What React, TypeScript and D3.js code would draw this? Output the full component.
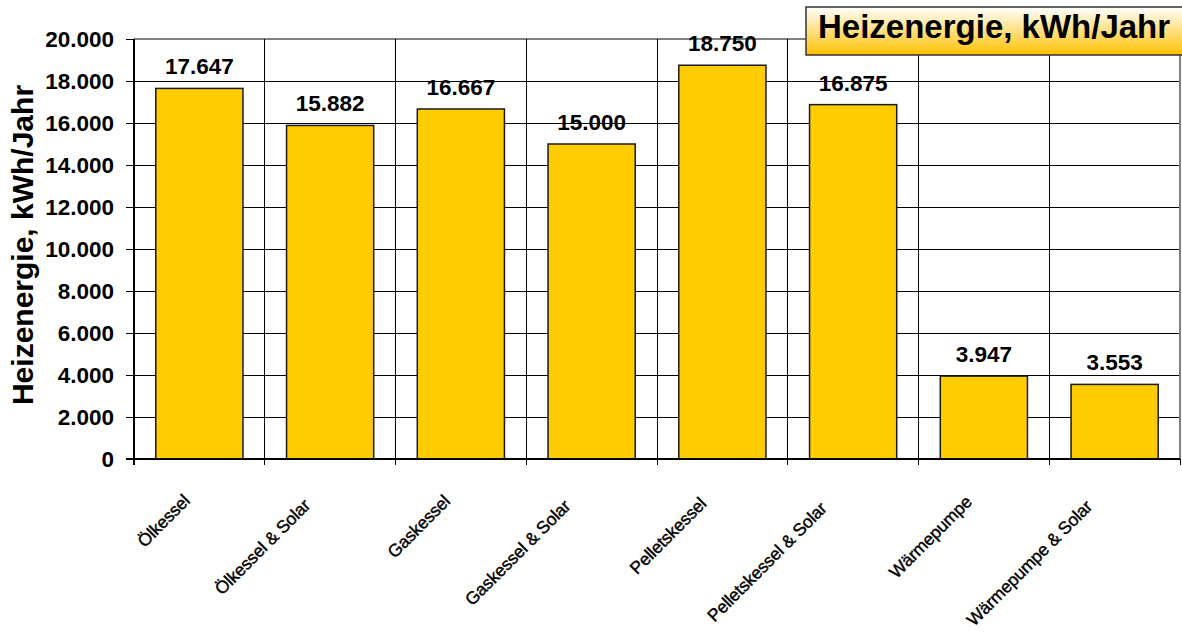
import React, { useEffect, useRef } from "react";
import * as d3 from "d3";

const categories = [
  "Ölkessel",
  "Ölkessel & Solar",
  "Gaskessel",
  "Gaskessel & Solar",
  "Pelletskessel",
  "Pelletskessel & Solar",
  "Wärmepumpe",
  "Wärmepumpe & Solar",
];
const values = [17647, 15882, 16667, 15000, 18750, 16875, 3947, 3553];
const yTicks = [0, 2000, 4000, 6000, 8000, 10000, 12000, 14000, 16000, 18000, 20000];
const legendLabel = "Heizenergie, kWh/Jahr";
const yTitle = "Heizenergie, kWh/Jahr";

const W = 1182;
const H = 639;
const FONT = "'Liberation Sans', Arial, Helvetica, sans-serif";

const fmt = (v: number) => d3.format(",")(v).replace(/,/g, ".");

export default function App() {
  const ref = useRef<SVGSVGElement | null>(null);

  useEffect(() => {
    const svg = d3.select(ref.current);
    svg.selectAll("*").remove();

    const left = 134, right = 1180, top = 39, bottom = 459;

    const x = d3.scaleBand<string>().domain(categories).range([left, right]).paddingInner(1 / 3).paddingOuter(1 / 6);
    const y = d3.scaleLinear().domain([0, 20000]).range([bottom, top]);
    const step = x.step();

    const defs = svg.append("defs");
    const grad = defs.append("linearGradient").attr("id", "lg").attr("x1", 0).attr("y1", 0).attr("x2", 0).attr("y2", 1);
    grad.append("stop").attr("offset", "0%").attr("stop-color", "#ffffff");
    grad.append("stop").attr("offset", "100%").attr("stop-color", "#ffc000");

    const lines = svg.append("g").attr("shape-rendering", "crispEdges");

    // horizontal gridlines
    lines.append("g").selectAll("line").data(yTicks.filter((t) => t > 0 && t < 20000)).join("line")
      .attr("x1", left).attr("x2", right).attr("y1", (d) => y(d)).attr("y2", (d) => y(d))
      .attr("stroke", "#000").attr("stroke-width", 1);

    // plot border top/right gray
    lines.append("line").attr("x1", left).attr("x2", right).attr("y1", y(20000)).attr("y2", y(20000))
      .attr("stroke", "#808080").attr("stroke-width", 1.5);
    lines.append("line").attr("x1", right).attr("x2", right).attr("y1", top).attr("y2", bottom)
      .attr("stroke", "#808080").attr("stroke-width", 1.5);

    // vertical gridlines at category boundaries (with tick extension)
    const bounds = categories.map((c) => (x(c) as number) - (step - x.bandwidth()) / 2).concat([right]);
    lines.append("g").selectAll("line").data(bounds.slice(1, -1)).join("line")
      .attr("x1", (d) => d).attr("x2", (d) => d).attr("y1", top).attr("y2", bottom + 6)
      .attr("stroke", "#000").attr("stroke-width", 1);
    lines.append("line").attr("x1", right).attr("x2", right).attr("y1", bottom).attr("y2", bottom + 6)
      .attr("stroke", "#000").attr("stroke-width", 1);

    // bars
    svg.append("g").selectAll("rect").data(values).join("rect")
      .attr("x", (_, i) => x(categories[i]) as number)
      .attr("y", (d) => y(d))
      .attr("width", x.bandwidth())
      .attr("height", (d) => bottom - y(d))
      .attr("fill", "#ffcc00").attr("stroke", "#1a1a1a").attr("stroke-width", 1.5);

    // data labels
    svg.append("g").selectAll("text").data(values).join("text")
      .attr("x", (_, i) => (x(categories[i]) as number) + x.bandwidth() / 2)
      .attr("y", (d) => y(d) - 14)
      .attr("text-anchor", "middle")
      .attr("font-family", FONT).attr("font-weight", "bold").attr("font-size", 22.5)
      .attr("fill", "#000")
      .text((d) => fmt(d));

    // y axis
    const ax = svg.append("g").attr("shape-rendering", "crispEdges");
    ax.append("line").attr("x1", left).attr("x2", left).attr("y1", top).attr("y2", bottom + 6)
      .attr("stroke", "#000").attr("stroke-width", 1.5);
    ax.append("g").selectAll("line").data(yTicks).join("line")
      .attr("x1", left - 8).attr("x2", left).attr("y1", (d) => y(d)).attr("y2", (d) => y(d))
      .attr("stroke", "#000").attr("stroke-width", 1);
    svg.append("g").selectAll("text").data(yTicks).join("text")
      .attr("x", 114).attr("y", (d) => y(d)).attr("dy", "0.36em")
      .attr("text-anchor", "end")
      .attr("font-family", FONT).attr("font-weight", "bold").attr("font-size", 22.5)
      .attr("fill", "#000")
      .text((d) => fmt(d));

    // x axis line
    ax.append("line").attr("x1", left - 8).attr("x2", right).attr("y1", bottom).attr("y2", bottom)
      .attr("stroke", "#000").attr("stroke-width", 2);

    // x labels rotated
    svg.append("g").selectAll("text").data(categories).join("text")
      .attr("transform", (d) => {
        const cx = (x(d) as number) + x.bandwidth() / 2;
        const n = d.length;
        const px = cx + 2 - 1.3 * n;
        const py = 497 + 0.6 * n;
        return `translate(${px},${py}) rotate(-45)`;
      })
      .attr("text-anchor", "end")
      .attr("font-family", FONT).attr("font-size", 17.5).attr("letter-spacing", -0.2)
      .attr("fill", "#000").attr("stroke", "#000").attr("stroke-width", 0.4)
      .text((d) => d);

    // y title
    svg.append("text")
      .attr("transform", `translate(33,245) rotate(-90)`)
      .attr("text-anchor", "middle")
      .attr("font-family", FONT).attr("font-weight", "bold").attr("font-size", 30)
      .attr("fill", "#000")
      .text(yTitle);

    // legend box
    svg.append("rect").attr("x", 806).attr("y", 7).attr("width", 400).attr("height", 48)
      .attr("fill", "url(#lg)").attr("stroke", "#333").attr("stroke-width", 1.5);
    svg.append("text").attr("x", 818).attr("y", 38)
      .attr("font-family", FONT).attr("font-weight", "bold").attr("font-size", 33)
      .attr("fill", "#000")
      .text(legendLabel);
  }, []);

  return (
    <svg
      ref={ref}
      width={W}
      height={H}
      style={{ position: "absolute", left: 0, top: 0, background: "#fff" }}
    />
  );
}
